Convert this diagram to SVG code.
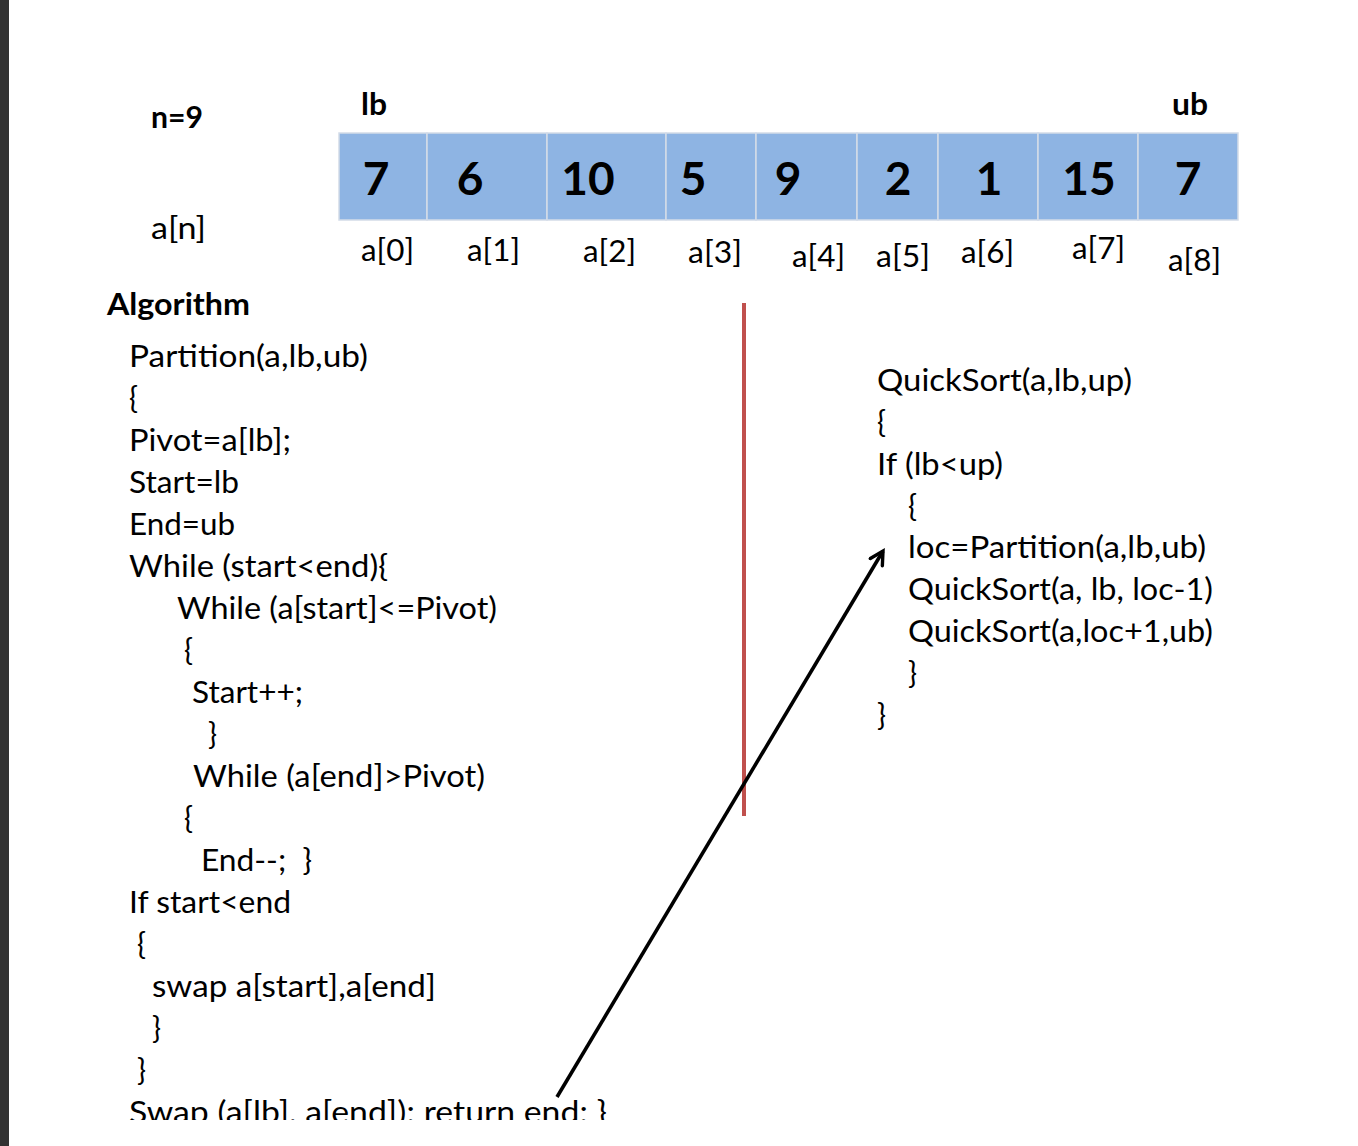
<svg xmlns="http://www.w3.org/2000/svg" width="1358" height="1146" viewBox="0 0 1358 1146">
<style>
text{font-family:Lato,"Carlito","Open Sans",sans-serif;fill:#000}
.b{font-weight:700}
.code{font-size:30px}
.lbl{font-size:30px}
.num{font-size:46px;font-weight:700;text-anchor:middle}
.cell{fill:#8EB4E3;stroke:#D3DCE8;stroke-width:1.5}
</style>
<defs>
<marker id="arr" markerUnits="userSpaceOnUse" markerWidth="18" markerHeight="18" viewBox="0 0 18 18" refX="15" refY="9" orient="auto">
<path d="M2,2 L15,9 L2,16" fill="none" stroke="#000" stroke-width="3.4" stroke-linecap="round" stroke-linejoin="miter"/>
</marker>
<clipPath id="clipBottom"><rect x="0" y="0" width="1358" height="1120"/></clipPath>
</defs>
<rect width="1358" height="1146" fill="#fff"/>
<rect x="0" y="0" width="9" height="1146" fill="#323232"/>

<g id="labels">
<text class="b" x="151" y="128" font-size="30" textLength="52" lengthAdjust="spacingAndGlyphs">n=9</text>
<text class="b" x="361" y="115" font-size="30" textLength="26" lengthAdjust="spacingAndGlyphs">lb</text>
<text class="b" x="1172" y="115" font-size="30" textLength="36" lengthAdjust="spacingAndGlyphs">ub</text>
<text class="lbl" x="151" y="239" textLength="55" lengthAdjust="spacingAndGlyphs">a[n]</text>
</g>

<g id="array">
<rect class="cell" x="339" y="133" width="88" height="87"/>
<rect class="cell" x="427" y="133" width="120" height="87"/>
<rect class="cell" x="547" y="133" width="119" height="87"/>
<rect class="cell" x="666" y="133" width="90" height="87"/>
<rect class="cell" x="756" y="133" width="101" height="87"/>
<rect class="cell" x="857" y="133" width="81" height="87"/>
<rect class="cell" x="938" y="133" width="100" height="87"/>
<rect class="cell" x="1038" y="133" width="100" height="87"/>
<rect class="cell" x="1138" y="133" width="100" height="87"/>
<text class="num" x="376" y="195">7</text>
<text class="num" x="470" y="195">6</text>
<text class="num" x="588" y="195">10</text>
<text class="num" x="693" y="195">5</text>
<text class="num" x="788" y="195">9</text>
<text class="num" x="898" y="195">2</text>
<text class="num" x="989" y="195">1</text>
<text class="num" x="1089" y="195">15</text>
<text class="num" x="1188" y="195">7</text>
</g>

<g id="indices">
<text class="lbl" x="361" y="261" textLength="53" lengthAdjust="spacingAndGlyphs">a[0]</text>
<text class="lbl" x="467" y="261" textLength="53" lengthAdjust="spacingAndGlyphs">a[1]</text>
<text class="lbl" x="583" y="262" textLength="53" lengthAdjust="spacingAndGlyphs">a[2]</text>
<text class="lbl" x="688" y="263" textLength="54" lengthAdjust="spacingAndGlyphs">a[3]</text>
<text class="lbl" x="792" y="267" textLength="53" lengthAdjust="spacingAndGlyphs">a[4]</text>
<text class="lbl" x="876" y="267" textLength="54" lengthAdjust="spacingAndGlyphs">a[5]</text>
<text class="lbl" x="961" y="263" textLength="53" lengthAdjust="spacingAndGlyphs">a[6]</text>
<text class="lbl" x="1072" y="259" textLength="53" lengthAdjust="spacingAndGlyphs">a[7]</text>
<text class="lbl" x="1168" y="271" textLength="53" lengthAdjust="spacingAndGlyphs">a[8]</text>
</g>

<g id="partition">
<text class="b" x="107" y="315" font-size="30" textLength="143" lengthAdjust="spacingAndGlyphs">Algorithm</text>
<text class="code" x="129" y="367" textLength="239" lengthAdjust="spacingAndGlyphs">Partition(a,lb,ub)</text>
<text class="code" x="129" y="409">{</text>
<text class="code" x="129" y="451" textLength="162" lengthAdjust="spacingAndGlyphs">Pivot=a[lb];</text>
<text class="code" x="129" y="493" textLength="110" lengthAdjust="spacingAndGlyphs">Start=lb</text>
<text class="code" x="129" y="535" textLength="106" lengthAdjust="spacingAndGlyphs">End=ub</text>
<text class="code" x="129" y="577" textLength="259" lengthAdjust="spacingAndGlyphs">While (start&lt;end){</text>
<text class="code" x="177" y="619" textLength="320" lengthAdjust="spacingAndGlyphs">While (a[start]&lt;=Pivot)</text>
<text class="code" x="184" y="661">{</text>
<text class="code" x="192" y="703" textLength="111" lengthAdjust="spacingAndGlyphs">Start++;</text>
<text class="code" x="208" y="745">}</text>
<text class="code" x="193" y="787" textLength="292" lengthAdjust="spacingAndGlyphs">While (a[end]&gt;Pivot)</text>
<text class="code" x="184" y="829">{</text>
<text class="code" x="201" y="871" xml:space="preserve" textLength="111" lengthAdjust="spacingAndGlyphs">End--;  }</text>
<text class="code" x="129" y="913" textLength="162" lengthAdjust="spacingAndGlyphs">If start&lt;end</text>
<text class="code" x="137" y="955">{</text>
<text class="code" x="152" y="997" textLength="284" lengthAdjust="spacingAndGlyphs">swap a[start],a[end]</text>
<text class="code" x="152" y="1039">}</text>
<text class="code" x="137" y="1081">}</text>
<text class="code" x="129" y="1123" textLength="478" lengthAdjust="spacingAndGlyphs" clip-path="url(#clipBottom)">Swap (a[lb], a[end]); return end; }</text>
</g>

<rect id="separator" x="742" y="303" width="4" height="513" fill="#C0504D"/>

<g id="quicksort">
<text class="code" x="877" y="391" textLength="255" lengthAdjust="spacingAndGlyphs">QuickSort(a,lb,up)</text>
<text class="code" x="877" y="433">{</text>
<text class="code" x="877" y="475" textLength="126" lengthAdjust="spacingAndGlyphs">If (lb&lt;up)</text>
<text class="code" x="908" y="517">{</text>
<text class="code" x="908" y="558" textLength="298" lengthAdjust="spacingAndGlyphs">loc=Partition(a,lb,ub)</text>
<text class="code" x="908" y="600" textLength="305" lengthAdjust="spacingAndGlyphs">QuickSort(a, lb, loc-1)</text>
<text class="code" x="908" y="642" textLength="305" lengthAdjust="spacingAndGlyphs">QuickSort(a,loc+1,ub)</text>
<text class="code" x="908" y="684">}</text>
<text class="code" x="877" y="726">}</text>
</g>

<g id="connectors">
<line x1="557" y1="1097" x2="883" y2="551" stroke="#000" stroke-width="3.6" marker-end="url(#arr)"/>
</g>
</svg>
